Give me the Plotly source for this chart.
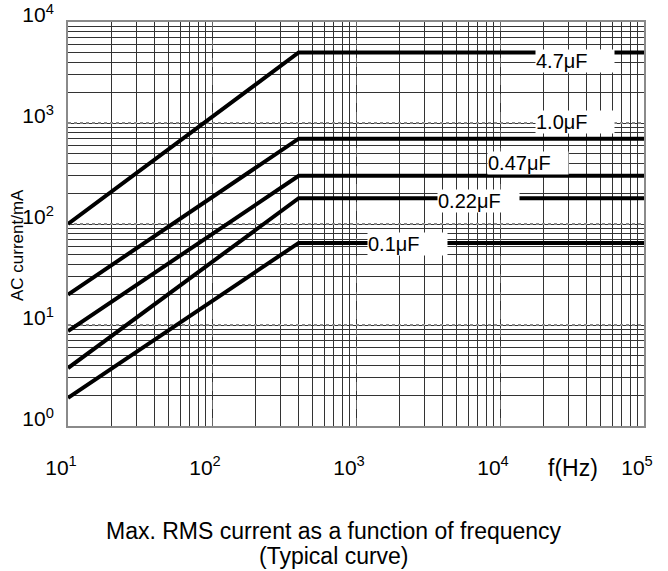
import plotly.graph_objects as go

# ---- data ----
freq_hz = [10, 400, 100000]
cap_labels = ["4.7μF", "1.0μF", "0.47μF", "0.22μF", "0.1μF"]
current_4u7 = [100, 5000, 5000]
current_1u0 = [20, 700, 700]
current_0u47 = [8.7, 300, 300]
current_0u22 = [3.75, 180, 180]
current_0u1 = [1.9, 65, 65]
series = [current_4u7, current_1u0, current_0u47, current_0u22, current_0u1]

x_tick_vals = [10, 100, 1000, 10000, 100000]
x_tick_text = ["10<sup>1</sup>", "10<sup>2</sup>", "10<sup>3</sup>", "10<sup>4</sup>", "10<sup>5</sup>"]
y_tick_vals = [1, 10, 100, 1000, 10000]
y_tick_text = ["10<sup>0</sup>", "10<sup>1</sup>", "10<sup>2</sup>", "10<sup>3</sup>", "10<sup>4</sup>"]

title_lines = ["Max. RMS current as a function of frequency", "(Typical curve)"]

# label positions (log10 of frequency, log10 of current) for the white label boxes
label_x_log = [4.243, 4.243, 3.91, 3.5625, 3.076]
label_y_log = [3.614, 3.01, 2.604, 2.228, 1.802]
label_box_w = [78, 78, 80, 81, 79]

FONT = "Liberation Sans, Arial, sans-serif"

fig = go.Figure()
for vals in series:
    fig.add_trace(go.Scatter(
        x=freq_hz, y=vals, mode="lines",
        line=dict(color="black", width=4),
        showlegend=False, hoverinfo="skip",
    ))

for txt, lx, ly, w in zip(cap_labels, label_x_log, label_y_log, label_box_w):
    fig.add_annotation(
        x=lx, y=ly, xref="x", yref="y", text=txt, showarrow=False,
        xanchor="left", yanchor="middle", align="left",
        width=w, height=22, bgcolor="white", borderpad=0,
        font=dict(family=FONT, size=20, color="black"),
    )

fig.add_annotation(
    x=0.877, y=-0.104, xref="paper", yref="paper", text="f(Hz)",
    showarrow=False, xanchor="center", yanchor="middle",
    font=dict(family=FONT, size=23, color="black"),
)
fig.add_annotation(
    x=-0.0885, y=0.448, xref="paper", yref="paper", text="AC current/mA",
    showarrow=False, textangle=-90, xanchor="center", yanchor="middle",
    font=dict(family=FONT, size=17, color="black"),
)
for line_txt, py in zip(title_lines, [-0.2599, -0.3218]):
    fig.add_annotation(
        x=0.462, y=py, xref="paper", yref="paper", text=line_txt,
        showarrow=False, xanchor="center", yanchor="middle",
        font=dict(family=FONT, size=23, color="black"),
    )

axis_common = dict(
    type="log", showline=True, linecolor="#8a8a8a", linewidth=2, mirror=True,
    ticks="", zeroline=False, ticklabeloverflow="allow", automargin=False,
)

fig.update_xaxes(
    **axis_common, range=[1, 5],
    tickvals=x_tick_vals, ticktext=x_tick_text,
    tickfont=dict(family=FONT, size=21, color="black"),
    showgrid=True, gridcolor="#666666", gridwidth=1, griddash="dash",
    minor=dict(dtick="D1", showgrid=True, gridcolor="#333333", gridwidth=1,
               griddash="solid", ticks=""),
    ticklabelstandoff=22, ticklabelshift=-7,
)
fig.update_yaxes(
    **axis_common, range=[0, 4],
    tickvals=y_tick_vals, ticktext=y_tick_text,
    tickfont=dict(family=FONT, size=21, color="black"),
    showgrid=True, gridcolor="#888888", gridwidth=2, griddash="dot",
    minor=dict(dtick="D1", showgrid=True, gridcolor="#333333", gridwidth=1,
               griddash="solid", ticks=""),
    ticklabelstandoff=8, ticklabelshift=-7,
)

fig.update_layout(
    width=668, height=571,
    margin=dict(l=68, r=24, t=22, b=145),
    paper_bgcolor="white", plot_bgcolor="white",
    font=dict(family=FONT, color="black"),
)

fig.write_html(
    "out.html", config={"displayModeBar": False},
    post_script="document.body.style.margin='0';document.body.style.padding='0';",
)
